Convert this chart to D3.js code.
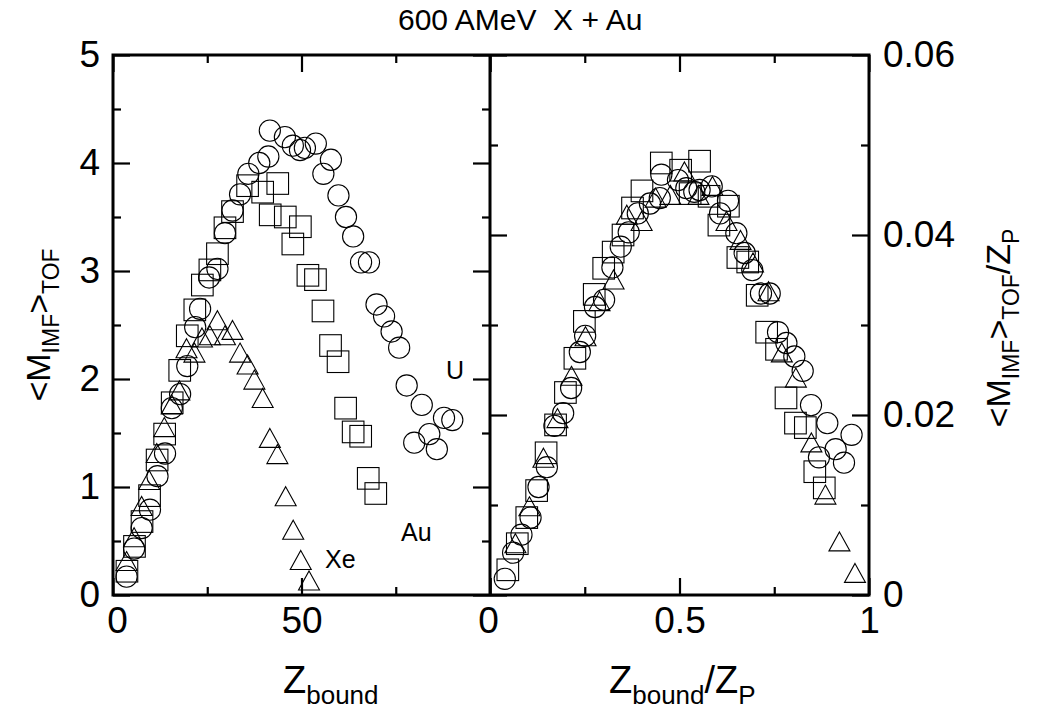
<!DOCTYPE html>
<html><head><meta charset="utf-8">
<script src="https://cdn.jsdelivr.net/npm/d3@7"></script>
<style>body{margin:0;background:#fff}svg{display:block}text{font-family:"Liberation Sans",Arial,sans-serif;fill:#000}</style>
</head><body>
<svg id="c" width="1041" height="722"></svg>
<script>
// Left panel: Z_bound vs <M_IMF>_TOF
const uLeft=[[3.6,0.17],[5.6,0.43],[7.6,0.62],[9.8,0.79],[11.8,1.10],[13.8,1.31],[15.6,1.73],[17.8,1.86],[19.7,2.12],[21.8,2.48],[23.1,2.65],[25.5,2.94],[27.7,3.02],[29.7,3.35],[31.7,3.56],[33.7,3.71],[35.9,3.90],[38.8,4.00],[41.2,4.06],[41.6,4.30],[45.6,4.24],[47.7,4.16],[49.6,4.12],[50.9,4.14],[53.8,4.18],[55.8,3.90],[57.8,4.03],[59.8,3.70],[61.8,3.50],[63.7,3.32],[65.8,3.08],[67.9,3.08],[69.9,2.69],[71.9,2.58],[73.9,2.44],[75.9,2.29],[77.9,1.94],[79.9,1.41],[81.9,1.76],[83.9,1.49],[85.9,1.35],[87.8,1.64],[90.0,1.62]];
const auLeft=[[3.7,0.22],[5.7,0.45],[7.7,0.68],[9.7,0.92],[11.7,1.25],[13.7,1.49],[15.7,1.78],[17.7,2.08],[19.7,2.40],[21.7,2.64],[23.7,2.87],[25.7,3.01],[27.7,3.16],[29.7,3.40],[31.7,3.55],[35.7,3.79],[39.7,3.73],[41.7,3.52],[43.7,3.81],[45.7,3.50],[47.7,3.25],[49.7,3.41],[51.7,2.96],[53.7,2.92],[55.7,2.63],[57.7,2.31],[59.7,2.16],[61.7,1.73],[63.7,1.51],[65.7,1.47],[67.7,1.08],[69.7,0.94]];
const xeLeft=[[3.6,0.31],[5.6,0.53],[7.6,0.82],[9.6,1.06],[11.6,1.31],[13.6,1.55],[15.6,1.76],[17.6,1.89],[19.5,2.28],[21.6,2.24],[23.6,2.38],[25.7,2.40],[27.7,2.54],[29.7,2.40],[31.7,2.45],[33.7,2.24],[35.7,2.13],[37.5,1.99],[39.7,1.82],[41.6,1.45],[43.6,1.30],[45.8,0.91],[47.8,0.60],[49.8,0.32],[52.0,0.13]];
// Right panel: Z_bound/Z_P vs <M_IMF>_TOF/Z_P
const uRight=[[0.039,0.0018],[0.061,0.0047],[0.083,0.0067],[0.107,0.0086],[0.128,0.0120],[0.150,0.0142],[0.170,0.0188],[0.193,0.0202],[0.214,0.0230],[0.237,0.0270],[0.251,0.0288],[0.277,0.0320],[0.301,0.0328],[0.323,0.0364],[0.345,0.0387],[0.366,0.0403],[0.390,0.0424],[0.422,0.0435],[0.448,0.0441],[0.452,0.0467],[0.496,0.0461],[0.518,0.0452],[0.539,0.0448],[0.553,0.0450],[0.585,0.0454],[0.607,0.0424],[0.628,0.0438],[0.650,0.0402],[0.672,0.0380],[0.692,0.0361],[0.715,0.0335],[0.738,0.0335],[0.760,0.0292],[0.782,0.0280],[0.803,0.0265],[0.825,0.0249],[0.847,0.0211],[0.868,0.0153],[0.890,0.0191],[0.912,0.0162],[0.934,0.0147],[0.954,0.0178]];
const auRight=[[0.047,0.0028],[0.072,0.0057],[0.097,0.0086],[0.123,0.0116],[0.148,0.0158],[0.173,0.0189],[0.199,0.0225],[0.224,0.0263],[0.249,0.0304],[0.275,0.0334],[0.300,0.0363],[0.325,0.0381],[0.351,0.0400],[0.376,0.0430],[0.401,0.0449],[0.452,0.0480],[0.503,0.0472],[0.528,0.0446],[0.553,0.0482],[0.578,0.0443],[0.604,0.0411],[0.629,0.0432],[0.654,0.0375],[0.680,0.0370],[0.705,0.0333],[0.730,0.0292],[0.756,0.0273],[0.781,0.0219],[0.806,0.0191],[0.832,0.0186],[0.857,0.0137],[0.882,0.0119]];
const xeRight=[[0.067,0.0057],[0.104,0.0098],[0.141,0.0152],[0.178,0.0196],[0.215,0.0243],[0.252,0.0287],[0.289,0.0326],[0.326,0.0350],[0.361,0.0422],[0.400,0.0415],[0.437,0.0441],[0.476,0.0444],[0.513,0.0470],[0.550,0.0444],[0.587,0.0454],[0.624,0.0415],[0.661,0.0394],[0.694,0.0369],[0.735,0.0337],[0.770,0.0269],[0.807,0.0241],[0.848,0.0169],[0.885,0.0111],[0.922,0.0059],[0.963,0.0024]];

const leftYTicks=[0,1,2,3,4,5], leftYMinor=[0.5,1.5,2.5,3.5,4.5];
const leftXTicks=[0,50,100], leftXMinor=[25,75], leftXLabels=[0,50];
const rightYTicks=[0,0.02,0.04,0.06], rightYMinor=[0.01,0.03,0.05];
const rightXTicks=[0,0.5,1], rightXMinor=[0.25,0.75], rightXLabels=[0,0.5,1];

const svg=d3.select("#c");
const L=113,M=490,R=869,T=55,B=595;
const xL=d3.scaleLinear().domain([0,100]).range([L,M]);
const xR=d3.scaleLinear().domain([0,1]).range([M,R]);
const yL=d3.scaleLinear().domain([0,5]).range([B,T]);
const yR=d3.scaleLinear().domain([0,0.06]).range([B,T]);
const MAJ=17,MIN=8,FS=37;

function ax(gen,tr,vals,size,labels,pad){
  const g=svg.append("g").attr("transform",tr).call(gen.tickValues(vals).tickSize(size).tickPadding(pad||14).tickFormat(d=>labels&&labels.includes(d)?String(d):""));
  g.select(".domain").remove();
  g.selectAll(".tick line").attr("stroke","#000").attr("stroke-width",2.2);
  g.selectAll(".tick text").style("font-size",FS+"px").style("font-family","Liberation Sans, Arial, sans-serif");
  return g;
}
// left panel ticks
ax(d3.axisLeft(yL),`translate(${L},0)`,leftYTicks,-MAJ,leftYTicks,13);
ax(d3.axisLeft(yL),`translate(${L},0)`,leftYMinor,-MIN,null);
ax(d3.axisRight(yL),`translate(${M},0)`,leftYTicks,-MAJ,null);
ax(d3.axisRight(yL),`translate(${M},0)`,leftYMinor,-MIN,null);
const lb=ax(d3.axisBottom(xL),`translate(0,${B})`,leftXTicks,-MAJ,leftXLabels,12);
lb.selectAll(".tick").filter(d=>d===0).select("text").attr("dx",4);
ax(d3.axisBottom(xL),`translate(0,${B})`,leftXMinor,-MIN,null);
ax(d3.axisTop(xL),`translate(0,${T})`,leftXTicks,-MAJ,null);
ax(d3.axisTop(xL),`translate(0,${T})`,leftXMinor,-MIN,null);
// right panel ticks
ax(d3.axisRight(yR),`translate(${R},0)`,rightYTicks,-MAJ,rightYTicks,14);
ax(d3.axisRight(yR),`translate(${R},0)`,rightYMinor,-MIN,null);
ax(d3.axisLeft(yR),`translate(${M},0)`,rightYTicks,-MAJ,null);
ax(d3.axisLeft(yR),`translate(${M},0)`,rightYMinor,-MIN,null);
const rb=ax(d3.axisBottom(xR),`translate(0,${B})`,rightXTicks,-MAJ,rightXLabels,12);
rb.selectAll(".tick").filter(d=>d===0).select("text").attr("dx",-2);
ax(d3.axisBottom(xR),`translate(0,${B})`,rightXMinor,-MIN,null);
ax(d3.axisTop(xR),`translate(0,${T})`,rightXTicks,-MAJ,null);
ax(d3.axisTop(xR),`translate(0,${T})`,rightXMinor,-MIN,null);

// frames
svg.append("rect").attr("x",L).attr("y",T).attr("width",R-L).attr("height",B-T).attr("fill","none").attr("stroke","#000").attr("stroke-width",3);
svg.append("line").attr("x1",M).attr("x2",M).attr("y1",T).attr("y2",B).attr("stroke","#000").attr("stroke-width",3);

// markers
const tri="M0,-10L10.5,9L-10.5,9Z";
function draw(data,xs,ys,type){
  const g=svg.append("g").attr("fill","none").attr("stroke","#000").attr("stroke-width",1.1);
  data.forEach(d=>{
    const x=xs(d[0]),y=ys(d[1]);
    if(type==="c") g.append("circle").attr("cx",x).attr("cy",y).attr("r",10.6);
    else if(type==="s") g.append("rect").attr("x",x-10.8).attr("y",y-10.8).attr("width",21.6).attr("height",21.6);
    else g.append("path").attr("d",tri).attr("transform",`translate(${x},${y})`);
  });
}
draw(uLeft,xL,yL,"c");draw(auLeft,xL,yL,"s");draw(xeLeft,xL,yL,"t");
draw(uRight,xR,yR,"c");draw(auRight,xR,yR,"s");draw(xeRight,xR,yR,"t");

// labels
svg.append("text").attr("x",398).attr("y",30).style("font-size","30px").style("white-space","pre").text("600 AMeV  X + Au");
svg.append("text").attr("x",446).attr("y",379).style("font-size","25px").text("U");
svg.append("text").attr("x",401).attr("y",541).style("font-size","25px").text("Au");
svg.append("text").attr("x",325).attr("y",568).style("font-size","25px").text("Xe");

// x axis titles
const BIG=38, SM=26;
let t=svg.append("text").attr("x",283).attr("y",693);
t.append("tspan").text("Z").style("font-size",BIG+"px");
t.append("tspan").text("bound").style("font-size",SM+"px").attr("dy",11);
t=svg.append("text").attr("x",609).attr("y",693);
t.append("tspan").text("Z").style("font-size",BIG+"px");
t.append("tspan").text("bound").style("font-size",SM+"px").attr("dy",11);
t.append("tspan").text("/Z").style("font-size",BIG+"px").attr("dy",-11);
t.append("tspan").text("P").style("font-size",SM+"px").attr("dy",11);
// y titles
function ytitle(x,y,withZp){
  const t=svg.append("text").attr("transform",`translate(${x},${y}) rotate(-90)`).attr("text-anchor","middle");
  t.append("tspan").text("<M").style("font-size","34px");
  t.append("tspan").text("IMF").style("font-size","23px").attr("dy",9);
  t.append("tspan").text(">").style("font-size","34px").attr("dy",-9);
  t.append("tspan").text("TOF").style("font-size","23px").attr("dy",9);
  if(withZp){
    t.append("tspan").text("/Z").style("font-size","34px").attr("dy",-9);
    t.append("tspan").text("P").style("font-size","23px").attr("dy",9);
  }
}
ytitle(50,325,false);
ytitle(1010,328,true);
</script>
</body></html>
